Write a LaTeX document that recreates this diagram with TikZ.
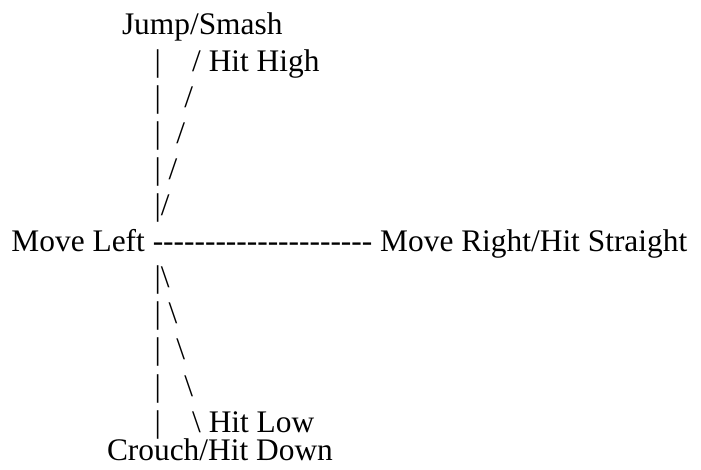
\documentclass[tikz,border=0pt]{standalone}
\usepackage{fontspec}
\setmainfont{Liberation Serif}[Ligatures=TeXOff]
\begin{document}
\begin{tikzpicture}[x=1pt,y=-1pt,
  artline/.style={anchor=base west,inner sep=0pt,outer sep=0pt,
    font=\fontsize{31.4pt}{36pt}\selectfont,text=black}]
\useasboundingbox[fill=white] (0,0) rectangle (701,469);
\node[artline] (l1) at (122,34) {Jump/Smash};
\node[artline] (l2) at (154.5,71) {|\ \ \ \ / Hit High};
\node[artline] (l3) at (154.5,107) {|\ \ \ /};
\node[artline] (l4) at (154.5,143) {|\ \ /};
\node[artline] (l5) at (154.5,179) {|\ /};
\node[artline] (l6) at (154.5,215) {|/};
\node[artline] (l7) at (11.5,251) {Move Left --------------------- Move Right/Hit Straight};
\node[artline] (l8) at (154.5,287) {|\textbackslash};
\node[artline] (l9) at (154.5,323) {|\ \textbackslash};
\node[artline] (l10) at (154.5,359) {|\ \ \textbackslash};
\node[artline] (l11) at (154.5,396) {|\ \ \ \textbackslash};
\node[artline] (l12) at (154.5,432) {|\ \ \ \ \textbackslash\ Hit Low};
\node[artline] (l13) at (107,460) {Crouch/Hit Down};
\end{tikzpicture}
\end{document}
